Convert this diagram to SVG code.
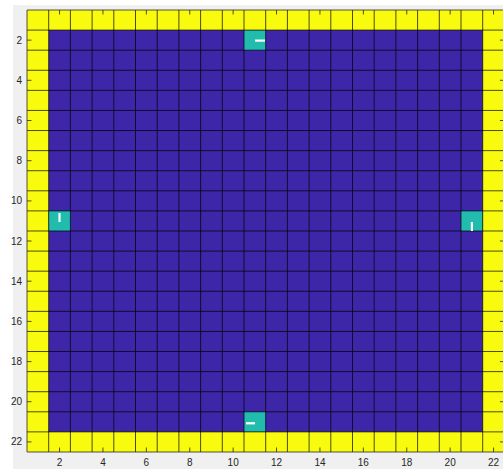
<svg xmlns="http://www.w3.org/2000/svg" width="503" height="469" viewBox="0 0 503 469">
<style>
.grid{stroke:#000;stroke-opacity:0.7;stroke-width:1;fill:none}
.tick{stroke:#262626;stroke-width:0.8;fill:none}
.lbl{font-family:"Liberation Sans",Arial,sans-serif;font-size:10px;fill:#262626}
.teal{fill:#21bcae}
.dash{stroke:#fff;stroke-width:2.2;fill:none}
</style>
<rect x="0" y="0" width="503" height="469" fill="#ffffff"/>
<rect x="13" y="5" width="490" height="464" fill="#f0f0f0"/>
<g id="field">
<rect x="27" y="10" width="477.4" height="442" fill="#f9fb0e"/>
<rect x="48.7" y="30.09" width="434" height="401.8" fill="#3e26a8"/>
</g>
<g id="cells">
<rect id="c-top" class="teal" x="244" y="30.09" width="21.7" height="20.09"/>
<rect id="c-left" class="teal" x="48.7" y="210.9" width="21.7" height="20.09"/>
<rect id="c-right" class="teal" x="461" y="210.9" width="21.7" height="20.09"/>
<rect id="c-bottom" class="teal" x="244" y="411.8" width="21.7" height="20.09"/>
</g>
<g id="grid">
<path class="grid" d="M48.7 10V452M70.4 10V452M92.1 10V452M113.8 10V452M135.5 10V452M157.2 10V452M178.9 10V452M200.6 10V452M222.3 10V452M244 10V452M265.7 10V452M287.4 10V452M309.1 10V452M330.8 10V452M352.5 10V452M374.2 10V452M395.9 10V452M417.6 10V452M439.3 10V452M461 10V452M482.7 10V452"/>
<path class="grid" d="M27 30.09H504.4M27 50.18H504.4M27 70.27H504.4M27 90.36H504.4M27 110.45H504.4M27 130.54H504.4M27 150.63H504.4M27 170.72H504.4M27 190.81H504.4M27 210.9H504.4M27 230.99H504.4M27 251.08H504.4M27 271.17H504.4M27 291.26H504.4M27 311.35H504.4M27 331.44H504.4M27 351.53H504.4M27 371.62H504.4M27 391.71H504.4M27 411.8H504.4M27 431.89H504.4"/>
</g>
<g id="markers">
<path class="dash" d="M255 40.6H265"/>
<path class="dash" d="M59.5 213V222"/>
<path class="dash" d="M471.9 222V231"/>
<path class="dash" d="M246 423.3H255"/>
</g>
<g id="axes">
<path class="tick" d="M27 10H504.4M27 10V452H504.4M504.4 10V452"/>
<path class="tick" d="M59.55 10v4.5M102.95 10v4.5M146.35 10v4.5M189.75 10v4.5M233.15 10v4.5M276.55 10v4.5M319.95 10v4.5M363.35 10v4.5M406.75 10v4.5M450.15 10v4.5M493.55 10v4.5"/>
<path class="tick" d="M59.55 452v-4.5M102.95 452v-4.5M146.35 452v-4.5M189.75 452v-4.5M233.15 452v-4.5M276.55 452v-4.5M319.95 452v-4.5M363.35 452v-4.5M406.75 452v-4.5M450.15 452v-4.5M493.55 452v-4.5"/>
<path class="tick" d="M27 40.14h4.5M27 80.31h4.5M27 120.5h4.5M27 160.7h4.5M27 200.9h4.5M27 241h4.5M27 281.2h4.5M27 321.4h4.5M27 361.6h4.5M27 401.7h4.5M27 441.9h4.5"/>
<path class="tick" d="M504.4 40.14h-4.5M504.4 80.31h-4.5M504.4 120.5h-4.5M504.4 160.7h-4.5M504.4 200.9h-4.5M504.4 241h-4.5M504.4 281.2h-4.5M504.4 321.4h-4.5M504.4 361.6h-4.5M504.4 401.7h-4.5M504.4 441.9h-4.5"/>
</g>
<g id="ylabels" class="lbl" text-anchor="end">
<text x="22" y="43.6">2</text>
<text x="22" y="83.8">4</text>
<text x="22" y="124">6</text>
<text x="22" y="164.2">8</text>
<text x="22" y="204.4">10</text>
<text x="22" y="244.5">12</text>
<text x="22" y="284.7">14</text>
<text x="22" y="324.9">16</text>
<text x="22" y="365.1">18</text>
<text x="22" y="405.2">20</text>
<text x="22" y="445.4">22</text>
</g>
<g id="xlabels" class="lbl" text-anchor="middle">
<text x="59.55" y="466">2</text>
<text x="102.95" y="466">4</text>
<text x="146.35" y="466">6</text>
<text x="189.75" y="466">8</text>
<text x="233.15" y="466">10</text>
<text x="276.55" y="466">12</text>
<text x="319.95" y="466">14</text>
<text x="363.35" y="466">16</text>
<text x="406.75" y="466">18</text>
<text x="450.15" y="466">20</text>
<text x="493.55" y="466">22</text>
</g>
</svg>
